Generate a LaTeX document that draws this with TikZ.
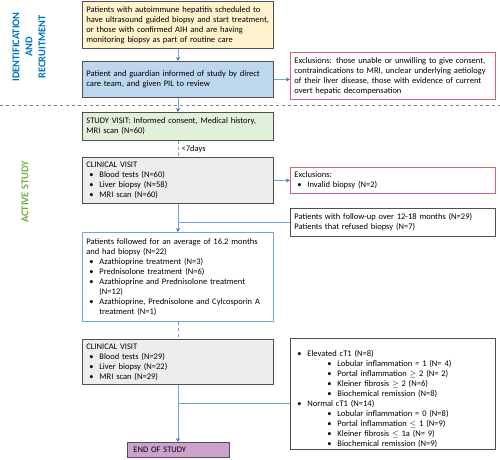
\documentclass[tikz,border=0pt]{standalone}
\usepackage{fontspec}
\setmainfont{Carlito}
\usepackage{amsmath,amssymb}
\usetikzlibrary{arrows.meta,positioning,calc}

\definecolor{yfill}{RGB}{255,242,204}
\definecolor{bfill}{RGB}{189,215,238}
\definecolor{gfill}{RGB}{226,240,217}
\definecolor{cfill}{RGB}{237,237,237}
\definecolor{pfill}{RGB}{204,162,204}
\definecolor{boxgray}{RGB}{80,80,80}
\definecolor{exred}{RGB}{224,96,110}
\definecolor{linkblue}{RGB}{120,160,220}
\definecolor{tipblue}{RGB}{68,114,196}
\definecolor{titleblue}{RGB}{0,112,192}
\definecolor{titlegreen}{RGB}{112,173,71}

\newcommand{\bul}[1]{\par\noindent\hspace*{3pt}\makebox[10pt][l]{\textbullet}#1}
\newcommand{\subbul}[1]{\par\noindent\hspace*{33pt}\makebox[10pt][l]{\textbullet}#1}
\newcommand{\cont}{\\\hspace*{13pt}}
\hyphenpenalty=10000
\exhyphenpenalty=10000

\tikzset{
  box/.style={draw=boxgray,line width=0.8pt,anchor=north west,align=left,
    inner xsep=4pt,inner ysep=2pt,font=\fontsize{8.5}{10}\selectfont},
  leftbox/.style={box,text width=183pt},
  rightbox/.style={box,text width=197pt},
  link/.style={draw=linkblue,line width=0.8pt},
  arr/.style={link,-{Stealth[length=4pt,width=4pt,color=tipblue]}},
  sidetitle/.style={rotate=90,align=center,font=\bfseries\fontsize{10.4}{13}\selectfont}
}

\begin{document}
\begin{tikzpicture}[x=1pt,y=-1pt]
\useasboundingbox (0,0) rectangle (500,459);

\node[sidetitle,text=titleblue] (idlab) at (29,47) {IDENTIFICATION\\AND\\RECRUITMENT};
\node[sidetitle,text=titlegreen] (actlab) at (25,192) {ACTIVE STUDY};

\draw[dashed,gray,line width=0.6pt] (0,105)--(500,105);

\node[leftbox,fill=yfill,minimum height=47pt] (recruit) at (82,1)
  {Patients with autoimmune hepatitis scheduled to\\ have ultrasound guided biopsy and start~treatment,\\ or those with confirmed AIH and are having\\ monitoring biopsy as part of routine care};
\node[leftbox,fill=bfill,minimum height=36pt] (inform) at (82,61)
  {Patient and guardian informed of study by direct\\ care team, and given PIL to review};
\node[rightbox,draw=exred,minimum height=47pt] (excl1) at (290,52)
  {Exclusions: those unable or unwilling to give consent,\\ contraindications to MRI, unclear underlying aetiology\\ of their liver disease, those with evidence of current\\ overt hepatic decompensation};

\node[leftbox,fill=gfill,minimum height=28pt] (visit) at (82,112)
  {STUDY VISIT: Informed consent, Medical history,\\ MRI scan (N=60)};
\node[leftbox,fill=cfill,minimum height=46pt] (clin1) at (82,157)
  {CLINICAL VISIT\bul{Blood tests (N=60)}\bul{Liver biopsy (N=58)}\bul{MRI scan (N=60)}};
\node[rightbox,draw=exred,minimum height=26pt] (excl2) at (290,167)
  {Exclusions:\bul{Invalid biopsy (N=2)}};
\node[rightbox,minimum height=28pt] (fu) at (290,208)
  {Patients with follow-up over 12-18 months (N=29)\\ Patients that refused biopsy (N=7)};

\node[leftbox,draw=linkblue,minimum height=89pt] (followed) at (82,232)
  {Patients followed for an average of 16.2 months\\ and had biopsy (N=22)\bul{Azathioprine treatment (N=3)}\bul{Prednisolone treatment (N=6)}%
   \bul{Azathioprine and Prednisolone treatment\cont(N=12)}\bul{Azathioprine, Prednisolone and Cylcosporin A\cont treatment (N=1)}};
\node[leftbox,fill=cfill,minimum height=45pt] (clin2) at (82,339)
  {CLINICAL VISIT\bul{Blood tests (N=29)}\bul{Liver biopsy (N=22)}\bul{MRI scan (N=29)}};
\node[rightbox,minimum height=111pt] (results) at (290,338)
  {\vspace*{6pt}\bul{Elevated cT1 (N=8)}
   \subbul{Lobular inflammation = 1 (N= 4)}
   \subbul{Portal inflammation $\geq$ 2 (N= 2)}
   \subbul{Kleiner fibrosis $\geq$ 2 (N=6)}
   \subbul{Biochemical remission (N=8)}
   \bul{Normal cT1 (N=14)}
   \subbul{Lobular inflammation = 0 (N=8)}
   \subbul{Portal inflammation $\leq$ 1 (N=9)}
   \subbul{Kleiner fibrosis $\leq$ 1a (N= 9)}
   \subbul{Biochemical remission (N=9)}};
\node[box,fill=pfill,text width=94pt,minimum height=15pt] (endst) at (127,442) {\hspace*{2pt}END OF STUDY};

\draw[arr] (recruit)--(inform);
\draw[arr] (inform)--(visit);
\draw[arr] (inform.east)--(inform.east -| excl1.west);
\draw[link,dashed] (visit)--(clin1) node[midway,right,font=\fontsize{8.5}{10}\selectfont] {<7days};
\draw[arr] (clin1)--(excl2);
\draw[arr] (clin1)--(followed);
\draw[link] (clin1.south |- fu.west)--(fu.west);
\draw[link,dashed] (followed)--(clin2);
\draw[arr] (clin2.south)--(clin2.south |- endst.north);
\coordinate (br2) at (clin2.south |- 0,403);
\draw[link] (br2)--(br2 -| results.west);
\end{tikzpicture}
\end{document}
